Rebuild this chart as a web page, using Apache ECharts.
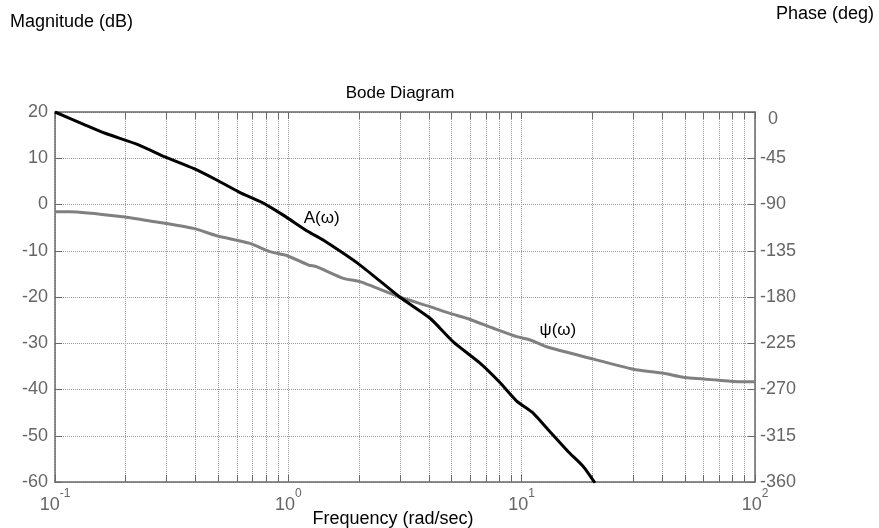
<!DOCTYPE html>
<html>
<head>
<meta charset="utf-8">
<script src="https://cdn.jsdelivr.net/npm/echarts@6/dist/echarts.min.js"></script>
<style>
  html, body { margin: 0; padding: 0; background: #fff; }
  #chart { width: 879px; height: 528px; }
</style>
</head>
<body>
<div id="chart"></div>
<script>
// Magnitude response A(ω), dB
const freqA = [0.1, 0.132, 0.164, 0.228, 0.296, 0.392, 0.493, 0.631, 0.781, 0.951,
               1.22, 1.41, 2.03, 3.0, 4.05, 5.09, 6.63, 8.07, 9.52, 11.2,
               13.2, 15.8, 18.4, 20.6];
const magA = [20, 17.4, 15.4, 12.9, 10.3, 7.8, 5.3, 2.4, 0.3, -2.3,
              -5.9, -7.7, -13.1, -20, -24.6, -29.7, -34.3, -38.5, -42.5, -45.1,
              -49.1, -53.4, -56.7, -60.2];

// Phase response ψ(ω), degrees
const freqP = [0.1, 0.116, 0.196, 0.255, 0.392, 0.493, 0.685, 0.834, 0.984, 1.22,
               1.32, 1.72, 2.03, 3.0, 4.05, 4.93, 5.81, 7.56, 9.52, 10.9,
               12.8, 19.6, 30.1, 40.5, 49.3, 68.6, 86.3, 100];
const phaseP = [-97, -97, -101.9, -106, -113.2, -120.4, -127.8, -135.9, -139.6, -148.9,
                -150.5, -161.8, -165.1, -180, -189.4, -196, -200.7, -210.4, -218.6, -221.8,
                -228.4, -239.6, -250.3, -254.2, -258.1, -260.8, -262.4, -262.4];

// Axes
const freqRange = [0.1, 100];
const magRange = [-60, 20];
const magStep = 10;
const phaseRange = [-360, 0];
const phaseStep = 45;
const minorFreqs = [0.2, 0.3, 0.4, 0.5, 0.6, 0.7, 0.8, 0.9,
                    2, 3, 4, 5, 6, 7, 8, 9,
                    20, 30, 40, 50, 60, 70, 80, 90];

const FONT = '"Liberation Sans", Arial, Helvetica, sans-serif';
const gridColor = '#9a9a9a';
const axisColor = '#6a6a6a';
const labelColor = '#666';

const chart = echarts.init(document.getElementById('chart'), null, { renderer: 'canvas' });

// decade labels as 10 with a raised exponent
function decadeLabel(v) {
  const e = Math.round(Math.log10(v));
  return '{b|10}{e|' + e + '}';
}

const innerTick = { show: true, inside: true, length: 7, lineStyle: { color: axisColor, width: 1 } };
const frameLine = { show: true, onZero: false, lineStyle: { color: axisColor, width: 1.5 } };

const option = {
  animation: false,
  textStyle: { fontFamily: FONT },
  title: [
    { text: 'Bode Diagram', left: 400, top: 85, textAlign: 'center', padding: 0,
      textStyle: { fontFamily: FONT, fontSize: 17, fontWeight: 'normal', color: '#000' } },
    { text: 'Magnitude (dB)', left: 10, top: 13, padding: 0,
      textStyle: { fontFamily: FONT, fontSize: 18, fontWeight: 'normal', color: '#000' } },
    { text: 'Phase (deg)', right: 5, top: 5, padding: 0,
      textStyle: { fontFamily: FONT, fontSize: 18, fontWeight: 'normal', color: '#000' } }
  ],
  grid: { left: 55, right: 124, top: 112, bottom: 46, containLabel: false, outerBoundsMode: 'none' },
  xAxis: [
    {
      type: 'log', logBase: 10, min: freqRange[0], max: freqRange[1], position: 'bottom',
      name: 'Frequency (rad/sec)', nameLocation: 'middle', nameGap: 28, nameMoveOverlap: false,
      nameTextStyle: { fontFamily: FONT, fontSize: 18, color: '#000', padding: [0, 24, 0, 0] },
      axisLine: frameLine,
      axisTick: innerTick,
      axisLabel: {
        margin: 6,
        formatter: decadeLabel,
        rich: {
          b: { fontFamily: FONT, fontSize: 18, lineHeight: 26, color: labelColor, verticalAlign: 'bottom' },
          e: { fontFamily: FONT, fontSize: 12, color: labelColor, verticalAlign: 'top' }
        }
      },
      splitLine: { show: true, lineStyle: { color: gridColor, width: 1, type: [1, 1] } }
    },
    {
      type: 'log', logBase: 10, min: freqRange[0], max: freqRange[1], position: 'top',
      axisLine: frameLine,
      axisTick: innerTick,
      axisLabel: { show: false },
      splitLine: { show: false }
    }
  ],
  yAxis: [
    {
      type: 'value', min: magRange[0], max: magRange[1], interval: magStep, position: 'left',
      axisLine: frameLine,
      axisTick: innerTick,
      axisLabel: { fontFamily: FONT, fontSize: 18, color: labelColor, margin: 7 },
      splitLine: { show: true, lineStyle: { color: gridColor, width: 1, type: [1, 1] } }
    },
    {
      type: 'value', min: phaseRange[0], max: phaseRange[1], interval: phaseStep, position: 'right',
      axisLine: frameLine,
      axisTick: innerTick,
      axisLabel: {
        fontFamily: FONT, fontSize: 18, color: labelColor, margin: 5,
        formatter: v => (v === 0 ? '{z|0}' : String(v)),
        rich: { z: { fontFamily: FONT, fontSize: 18, color: labelColor, padding: [14, 0, 0, 8] } }
      },
      splitLine: { show: false }
    }
  ],
  series: [
    {
      // minor decade gridlines with inner ticks on the bottom and top edges
      type: 'custom',
      silent: true,
      z: 1,
      xAxisIndex: 0,
      yAxisIndex: 0,
      data: minorFreqs.map(f => [f, magRange[0]]),
      encode: { x: 0, y: 1 },
      renderItem: (params, api) => {
        const f = api.value(0);
        const lo = api.coord([f, magRange[0]]);
        const hi = api.coord([f, magRange[1]]);
        const x = Math.round(lo[0]) + 0.5;
        return {
          type: 'group',
          children: [
            { type: 'line', shape: { x1: x, y1: lo[1], x2: x, y2: hi[1] },
              style: { stroke: gridColor, lineWidth: 1, lineDash: [1, 1] } },
            { type: 'line', shape: { x1: x, y1: lo[1], x2: x, y2: lo[1] - 7 },
              style: { stroke: axisColor, lineWidth: 1 } },
            { type: 'line', shape: { x1: x, y1: hi[1], x2: x, y2: hi[1] + 7 },
              style: { stroke: axisColor, lineWidth: 1 } }
          ]
        };
      }
    },
    {
      name: 'A(ω)',
      type: 'line',
      xAxisIndex: 0,
      yAxisIndex: 0,
      data: freqA.map((f, i) => [f, magA[i]]),
      showSymbol: false,
      symbol: 'none',
      smooth: 0.2,
      clip: true,
      z: 4,
      lineStyle: { color: '#000', width: 3 },
      markPoint: {
        symbol: 'circle', symbolSize: 1,
        itemStyle: { color: 'rgba(0,0,0,0)' },
        data: [{
          coord: [1.39, -2.9],
          label: { show: true, position: 'inside', formatter: 'A(ω)',
                   fontFamily: FONT, fontSize: 17, color: '#000' }
        }]
      }
    },
    {
      name: 'ψ(ω)',
      type: 'line',
      xAxisIndex: 0,
      yAxisIndex: 1,
      data: freqP.map((f, i) => [f, phaseP[i]]),
      showSymbol: false,
      symbol: 'none',
      smooth: 0.2,
      clip: true,
      z: 3,
      lineStyle: { color: '#808080', width: 3 },
      markPoint: {
        symbol: 'circle', symbolSize: 1,
        itemStyle: { color: 'rgba(0,0,0,0)' },
        data: [{
          coord: [14.3, -212],
          label: { show: true, position: 'inside', formatter: 'ψ(ω)',
                   fontFamily: FONT, fontSize: 17, color: '#000' }
        }]
      }
    }
  ]
};

chart.setOption(option);
</script>
</body>
</html>
